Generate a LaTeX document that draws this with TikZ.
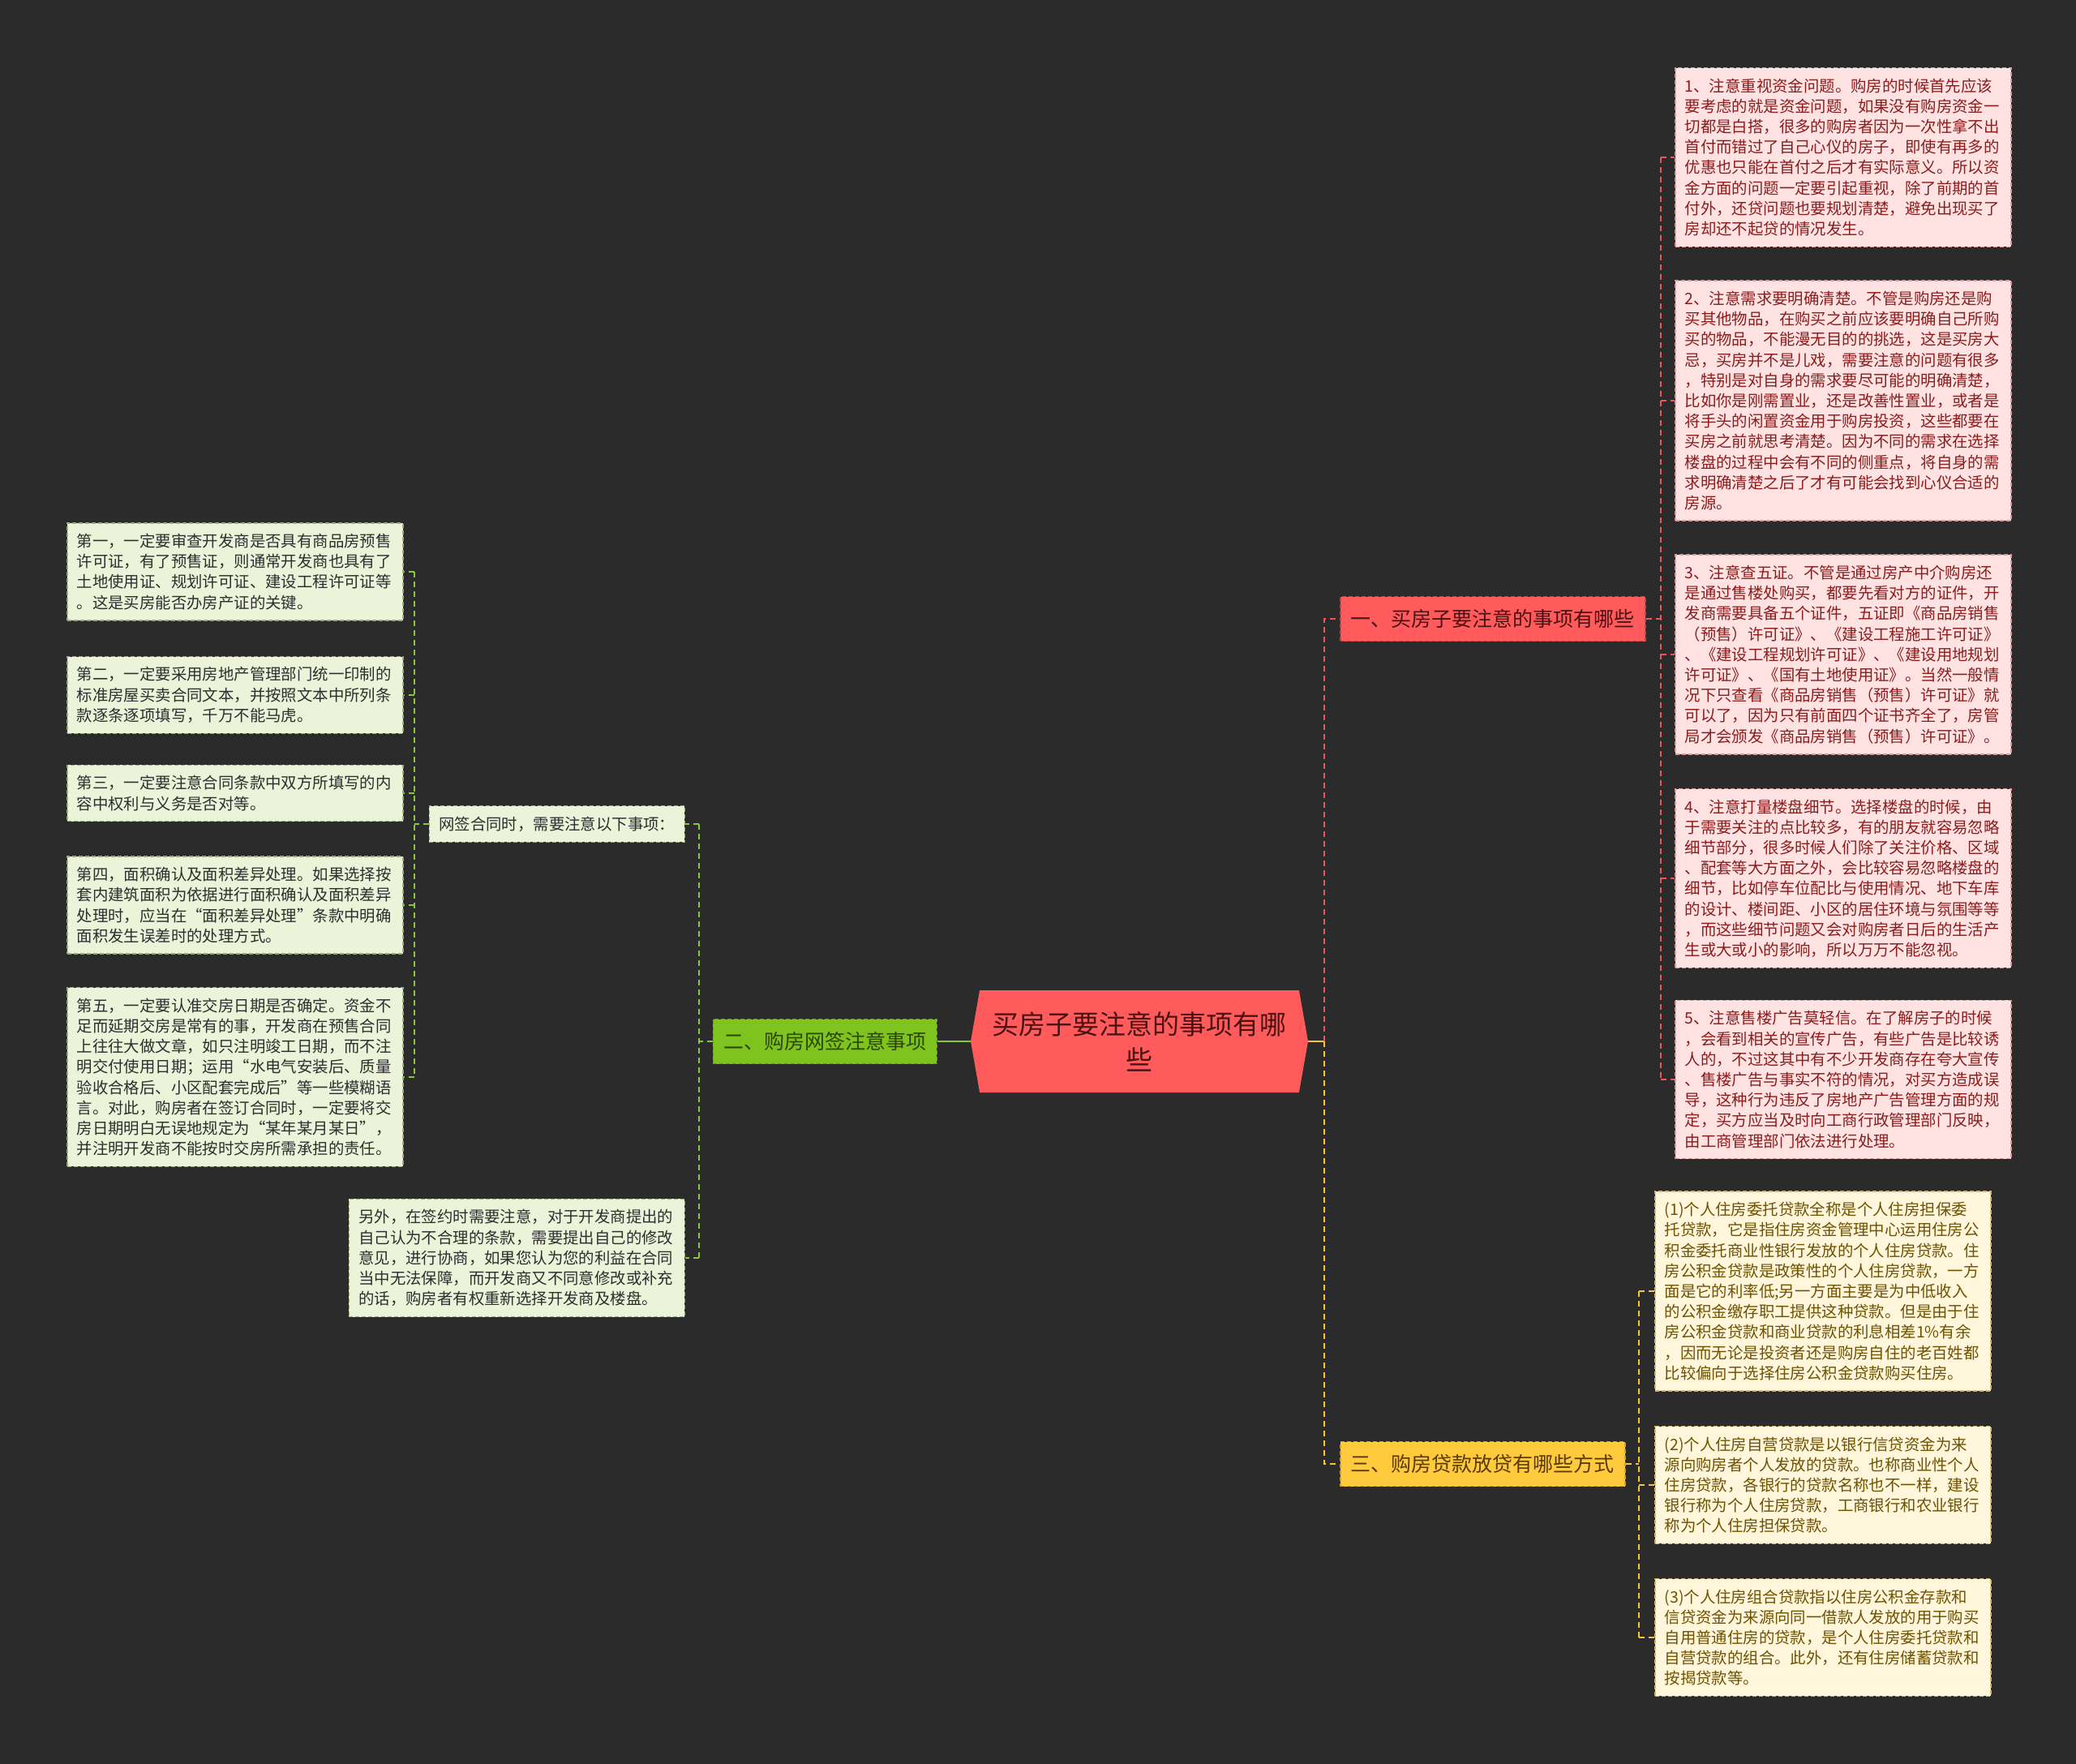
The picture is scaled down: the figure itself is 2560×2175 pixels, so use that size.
\documentclass[tikz,border=0pt]{standalone}
\usepackage{fontspec}
\setmainfont{Noto Sans CJK SC}
\usetikzlibrary{positioning,shapes.symbols,calc}

\definecolor{bgdark}{HTML}{2B2B2B}
\definecolor{redmain}{HTML}{FF5A5C}
\definecolor{redmaintext}{HTML}{4A1212}
\definecolor{redline}{HTML}{E8585C}
\definecolor{redfill}{HTML}{FFE2E2}
\definecolor{redborder}{HTML}{DC9A9A}
\definecolor{redtext}{HTML}{8B1C1C}
\definecolor{greenmain}{HTML}{7FC31E}
\definecolor{greenmaintext}{HTML}{2A4705}
\definecolor{greenline}{HTML}{8CC63F}
\definecolor{greenfill}{HTML}{EBF3D9}
\definecolor{greenborder}{HTML}{9AAA7A}
\definecolor{greentext}{HTML}{2E2E2E}
\definecolor{yellowmain}{HTML}{FFCB3D}
\definecolor{yellowmaintext}{HTML}{5A3A00}
\definecolor{yellowline}{HTML}{F5C542}
\definecolor{yellowfill}{HTML}{FFF6DC}
\definecolor{yellowborder}{HTML}{D4B86A}
\definecolor{yellowtext}{HTML}{6E5200}

\tikzset{
  boxline/.style={line width=1.5pt, dash pattern=on 5pt off 3pt},
  link/.style={line width=2pt, dash pattern=on 7pt off 5pt},
  solidlink/.style={line width=2pt},
}

\begin{document}
\begin{tikzpicture}[
  x=1pt, y=-1pt,
  every node/.style={font=\fontsize{19.4}{25.2}\selectfont},
  root/.style={signal, signal to=east and west, signal pointer angle=160,
    fill=redmain, text=redmaintext, minimum width=416pt, minimum height=126pt,
    align=center, font=\fontsize{33}{44}\selectfont},
  branch/.style={draw, boxline, minimum height=55pt, inner xsep=13pt,
    font=\fontsize{25}{30}\selectfont},
  notebox/.style={draw, boxline, align=left, inner xsep=12pt, inner ysep=13pt},
  leaf/.style={notebox, text width=390pt},
  redleaf/.style={leaf, fill=redfill, draw=redborder, text=redtext, anchor=west},
  yellowleaf/.style={leaf, fill=yellowfill, draw=yellowborder, text=yellowtext, anchor=west},
  greenleaf/.style={leaf, fill=greenfill, draw=greenborder, text=greentext, anchor=west},
]
\useasboundingbox (0,0) rectangle (2560,2175);
\fill[bgdark] (0,0) rectangle (2560,2175);

% main topic and its three branches
\node[root] (root) at (1405,1284) {买房子要注意的事项有哪\\些};
\node[branch, fill=redmain, draw=redline!80!black, text=redmaintext, anchor=west] (sec1) at (1652,763) {一、买房子要注意的事项有哪些};
\node[branch, fill=greenmain, draw=greenmain!80!black, text=greenmaintext, anchor=east] (sec2) at (1156,1284) {二、购房网签注意事项};
\node[branch, fill=yellowmain, draw=yellowmain!80!black, text=yellowmaintext, anchor=west] (sec3) at (1652,1805) {三、购房贷款放贷有哪些方式};

% branch 1
\node[redleaf] (r1) at (2065,194) {1、注意重视资金问题。购房的时候首先应该\\要考虑的就是资金问题，如果没有购房资金一\\切都是白搭，很多的购房者因为一次性拿不出\\首付而错过了自己心仪的房子，即使有再多的\\优惠也只能在首付之后才有实际意义。所以资\\金方面的问题一定要引起重视，除了前期的首\\付外，还贷问题也要规划清楚，避免出现买了\\房却还不起贷的情况发生。};
\node[redleaf] (r2) at (2065,494) {2、注意需求要明确清楚。不管是购房还是购\\买其他物品，在购买之前应该要明确自己所购\\买的物品，不能漫无目的的挑选，这是买房大\\忌，买房并不是儿戏，需要注意的问题有很多\\，特别是对自身的需求要尽可能的明确清楚，\\比如你是刚需置业，还是改善性置业，或者是\\将手头的闲置资金用于购房投资，这些都要在\\买房之前就思考清楚。因为不同的需求在选择\\楼盘的过程中会有不同的侧重点，将自身的需\\求明确清楚之后了才有可能会找到心仪合适的\\房源。};
\node[redleaf] (r3) at (2065,807) {3、注意查五证。不管是通过房产中介购房还\\是通过售楼处购买，都要先看对方的证件，开\\发商需要具备五个证件，五证即《商品房销售\\（预售）许可证》、《建设工程施工许可证》\\、《建设工程规划许可证》、《建设用地规划\\许可证》、《国有土地使用证》。当然一般情\\况下只查看《商品房销售（预售）许可证》就\\可以了，因为只有前面四个证书齐全了，房管\\局才会颁发《商品房销售（预售）许可证》。};
\node[redleaf] (r4) at (2065,1083) {4、注意打量楼盘细节。选择楼盘的时候，由\\于需要关注的点比较多，有的朋友就容易忽略\\细节部分，很多时候人们除了关注价格、区域\\、配套等大方面之外，会比较容易忽略楼盘的\\细节，比如停车位配比与使用情况、地下车库\\的设计、楼间距、小区的居住环境与氛围等等\\，而这些细节问题又会对购房者日后的生活产\\生或大或小的影响，所以万万不能忽视。};
\node[redleaf] (r5) at (2065,1331) {5、注意售楼广告莫轻信。在了解房子的时候\\，会看到相关的宣传广告，有些广告是比较诱\\人的，不过这其中有不少开发商存在夸大宣传\\、售楼广告与事实不符的情况，对买方造成误\\导，这种行为违反了房地产广告管理方面的规\\定，买方应当及时向工商行政管理部门反映，\\由工商管理部门依法进行处理。};

% branch 3
\node[yellowleaf] (y1) at (2040,1592) {(1)个人住房委托贷款全称是个人住房担保委\\托贷款，它是指住房资金管理中心运用住房公\\积金委托商业性银行发放的个人住房贷款。住\\房公积金贷款是政策性的个人住房贷款，一方\\面是它的利率低;另一方面主要是为中低收入\\的公积金缴存职工提供这种贷款。但是由于住\\房公积金贷款和商业贷款的利息相差1\%有余\\，因而无论是投资者还是购房自住的老百姓都\\比较偏向于选择住房公积金贷款购买住房。};
\node[yellowleaf] (y2) at (2040,1831) {(2)个人住房自营贷款是以银行信贷资金为来\\源向购房者个人发放的贷款。也称商业性个人\\住房贷款，各银行的贷款名称也不一样，建设\\银行称为个人住房贷款，工商银行和农业银行\\称为个人住房担保贷款。};
\node[yellowleaf] (y3) at (2040,2019) {(3)个人住房组合贷款指以住房公积金存款和\\信贷资金为来源向同一借款人发放的用于购买\\自用普通住房的贷款，是个人住房委托贷款和\\自营贷款的组合。此外，还有住房储蓄贷款和\\按揭贷款等。};

% branch 2
\node[notebox, fill=greenfill, draw=greenborder, text=greentext, anchor=east] (net) at (845,1016) {网签合同时，需要注意以下事项：};
\node[greenleaf, anchor=east] (extra) at (845,1551) {另外，在签约时需要注意，对于开发商提出的\\自己认为不合理的条款，需要提出自己的修改\\意见，进行协商，如果您认为您的利益在合同\\当中无法保障，而开发商又不同意修改或补充\\的话，购房者有权重新选择开发商及楼盘。};
\node[greenleaf] (g1) at (82,705) {第一，一定要审查开发商是否具有商品房预售\\许可证，有了预售证，则通常开发商也具有了\\土地使用证、规划许可证、建设工程许可证等\\。这是买房能否办房产证的关键。};
\node[greenleaf] (g2) at (82,857) {第二，一定要采用房地产管理部门统一印制的\\标准房屋买卖合同文本，并按照文本中所列条\\款逐条逐项填写，千万不能马虎。};
\node[greenleaf] (g3) at (82,978) {第三，一定要注意合同条款中双方所填写的内\\容中权利与义务是否对等。};
\node[greenleaf] (g4) at (82,1116) {第四，面积确认及面积差异处理。如果选择按\\套内建筑面积为依据进行面积确认及面积差异\\处理时，应当在“面积差异处理”条款中明确\\面积发生误差时的处理方式。};
\node[greenleaf] (g5) at (82,1328) {第五，一定要认准交房日期是否确定。资金不\\足而延期交房是常有的事，开发商在预售合同\\上往往大做文章，如只注明竣工日期，而不注\\明交付使用日期；运用“水电气安装后、质量\\验收合格后、小区配套完成后”等一些模糊语\\言。对此，购房者在签订合同时，一定要将交\\房日期明白无误地规定为“某年某月某日”，\\并注明开发商不能按时交房所需承担的责任。};

% connectors from the main topic
\coordinate (hub) at (1633,1284);
\draw[solidlink, yellowline] (root.east) -- (hub);
\draw[link, redline] (hub) |- (sec1.west);
\draw[link, yellowline] (hub) |- (sec3.west);
\draw[solidlink, greenline] (root.west) -- (sec2.east);

% branch 1 bus
\coordinate (rbus) at (2048,763);
\draw[link, redline] (sec1.east) -- (rbus);
\draw[link, redline] (rbus |- r1.west) -- (rbus |- r5.west);
\foreach \n in {1,...,5}
  \draw[link, redline] (rbus |- r\n.west) -- (r\n.west);

% branch 3 bus
\coordinate (ybus) at (2021,1805);
\draw[link, yellowline] (sec3.east) -- (ybus);
\draw[link, yellowline] (ybus |- y1.west) -- (ybus |- y3.west);
\foreach \n in {1,...,3}
  \draw[link, yellowline] (ybus |- y\n.west) -- (y\n.west);

% branch 2 buses
\coordinate (gbus) at (862,1284);
\draw[link, greenline] (sec2.west) -- (gbus);
\draw[link, greenline] (gbus |- net.east) -- (gbus |- extra.east);
\draw[link, greenline] (gbus |- net.east) -- (net.east);
\draw[link, greenline] (gbus |- extra.east) -- (extra.east);
\coordinate (lbus) at (511,1016);
\draw[link, greenline] (net.west) -- (lbus);
\draw[link, greenline] (lbus |- g1.east) -- (lbus |- g5.east);
\foreach \n in {1,...,5}
  \draw[link, greenline] (lbus |- g\n.east) -- (g\n.east);
\end{tikzpicture}
\end{document}
